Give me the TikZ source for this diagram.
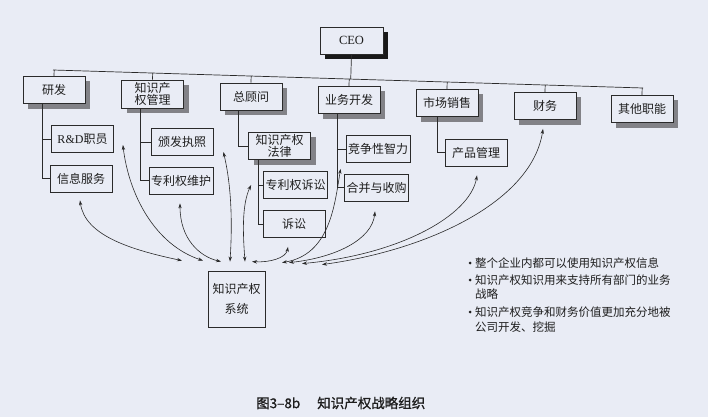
\documentclass[tikz,border=0pt]{standalone}
\usepackage{fontspec}
\setmainfont{Liberation Serif}
\newfontfamily\cjk{Noto Sans CJK SC}
\newfontfamily\cjkb[FakeBold=1]{Noto Sans CJK SC}
\usetikzlibrary{arrows.meta,shadows,calc}
\definecolor{bgc}{RGB}{233,236,245}
\definecolor{linec}{RGB}{42,42,42}
\definecolor{textc}{RGB}{30,30,30}
\definecolor{shadc}{RGB}{130,130,135}
\definecolor{shadd}{RGB}{25,25,25}
\begin{document}
\begin{tikzpicture}[x=1pt,y=-1pt,
  box/.style={draw=linec,line width=0.8pt,fill=bgc,text=textc,minimum width=62pt,minimum height=27pt,inner sep=2pt,align=center,font=\cjk\fontsize{12}{12.5}\selectfont},
  sbox/.style={box,drop shadow={shadow xshift=5pt,shadow yshift=-5pt,fill=shadc,opacity=1}},
  ceobox/.style={box,minimum width=63pt,font=\rmfamily\fontsize{12.5}{13}\selectfont,drop shadow={shadow xshift=5pt,shadow yshift=-5pt,fill=shadd,opacity=1}},
  tree/.style={draw=linec,line width=0.7pt},
  biarrow/.style={draw=linec,line width=0.6pt,{Stealth[length=5pt,width=3.4pt]}-{Stealth[length=5pt,width=3.4pt]}},
  bullettext/.style={text=textc,align=left,inner sep=0pt,anchor=west,font=\cjk\fontsize{11.5}{14.5}\selectfont}
]
\fill[bgc] (0,0) rectangle (708,417);
\useasboundingbox (0,0) rectangle (708,417);

% CEO and top level
\node[ceobox] (ceo) at (351.5,40.5) {CEO};
\node[sbox] (yf) at (54,90) {研发};
\node[sbox,minimum height=28pt] (ipm) at (152.5,94) {知识产\\权管理};
\node[sbox] (gc) at (251,96.5) {总顾问};
\node[sbox] (bd) at (349,100) {业务开发};
\node[sbox] (ms) at (447,103) {市场销售};
\node[sbox] (fin) at (545,106) {财务};
\node[sbox] (oth) at (642,109) {其他职能};

% bus
\coordinate (busL) at (53,70);
\coordinate (busR) at (643,88);
\draw[tree] (busL) -- (busR);
\draw[tree] (ceo.south) -- ($(busL)!(ceo.south)!(busR)$);
\foreach \n in {yf,ipm,gc,bd,ms,fin,oth}
  \draw[tree] (\n.north) -- ($(busL)!(\n.north)!(busR)$);

% sub boxes
\node[box] (rd) at (82.5,139) {{\rmfamily R\&D}职员};
\node[box] (info) at (81,178.5) {信息服务};
\node[box] (lic) at (182,142) {颁发执照};
\node[box,minimum width=64pt] (pm) at (181,180.5) {专利权维护};
\node[sbox,minimum height=26pt,font=\cjk\fontsize{12}{12}\selectfont] (law) at (279.5,146) {知识产权\\法律};
\node[box] (ptl) at (295.5,185) {专利权诉讼};
\node[box] (lit) at (294,224) {诉讼};
\node[box] (ci) at (378,149) {竞争性智力};
\node[box] (ma) at (376.5,187.5) {合并与收购};
\node[box] (pmg) at (476,152.5) {产品管理};
\node[box,minimum width=57pt,minimum height=56pt,font=\cjk\fontsize{12}{20}\selectfont] (sys) at (236.5,299) {知识产权\\系统};

% tree branches
\draw[tree] ([xshift=-12pt]yf.south) |- (rd.west);
\draw[tree] ([xshift=-12pt]yf.south) |- (info.west);
\draw[tree] ([xshift=-12.5pt]ipm.south) |- (lic.west);
\draw[tree] ([xshift=-12.5pt]ipm.south) |- (pm.west);
\draw[tree] ([xshift=-13pt]gc.south) |- (law.west);
\draw[tree] ([xshift=-21.5pt]law.south) |- (ptl.west);
\draw[tree] ([xshift=-21.5pt]law.south) |- (lit.west);
\draw[tree] ([xshift=-12pt]bd.south) |- (ci.west);
\draw[tree] ([xshift=-12pt]bd.south) |- (ma.west);
\draw[tree] ([xshift=-10pt]ms.south) |- (pmg.west);

% arrow end points
\coordinate (u1) at ($(info.south)+(-1,8)$);
\coordinate (u2) at ($(rd.east)+(9,6)$);
\coordinate (u3) at ($(pm.south)+(-1,9)$);
\coordinate (u4) at ($(lic.east)+(10,10)$);
\coordinate (u5) at ($(ptl.west)+(-12,0)$);
\coordinate (u6) at ($(lit.south)+(-6,9)$);
\coordinate (u7) at ($(ci.south west)+(-5,6)$);
\coordinate (u8) at ($(ma.south)+(-1.5,10)$);
\coordinate (u9) at ($(pmg.south)+(1,9)$);
\coordinate (u10) at ($(fin.south)+(-2,9)$);
\coordinate (l1) at ($(sys.north)+(-54.5,-10)$);
\coordinate (l2) at ($(sys.north)+(-33.5,-10)$);
\coordinate (l3) at ($(sys.north)+(-15.5,-9)$);
\coordinate (l4) at ($(sys.north)+(-6.5,-9)$);
\coordinate (l5) at ($(sys.north)+(8.5,-9)$);
\coordinate (l6) at ($(sys.north)+(15.5,-9)$);
\coordinate (l7) at ($(sys.north)+(45.5,-8)$);
\coordinate (l8) at ($(sys.north)+(52.5,-8)$);
\coordinate (l9) at ($(sys.north)+(65.5,-7)$);
\coordinate (l10) at ($(sys.north)+(85.5,-6)$);

\draw[biarrow] (u1) .. controls +(5,35) and +(-52,-11) .. (l1);
\draw[biarrow] (u2) .. controls +(6,50) and +(-48,-16) .. (l2);
\draw[biarrow] (u3) .. controls +(0,36) and +(-21,-5) .. (l3);
\draw[biarrow] (u4) .. controls +(9,38) and +(2,-32) .. (l4);
\draw[biarrow] (u5) .. controls +(-9.5,20) and +(-2,-27) .. (l5);
\draw[biarrow] (l6) .. controls +(18,1) and +(-2,11) .. (u6);
\draw[biarrow] (u7) .. controls +(-6,36) and +(48,-8) .. (l7);
\draw[biarrow] (u8) .. controls +(-3,28.5) and +(46,-5) .. (l8);
\draw[biarrow] (u9) .. controls +(-7,40) and +(98,-9) .. (l9);
\draw[biarrow] (u10) .. controls +(-11,72) and +(108,-15) .. (l10);

% bullet list
\fill[textc] (470,263) circle (1.5);
\fill[textc] (470,280) circle (1.5);
\fill[textc] (470,312) circle (1.5);
\node[bullettext] (b1) at (475,263) {整个企业内都可以使用知识产权信息};
\node[bullettext] (b2) at (475,287) {知识产权知识用来支持所有部门的业务\\战略};
\node[bullettext] (b3) at (475,319.5) {知识产权竞争和财务价值更加充分地被\\公司开发、挖掘};

% caption
\node[anchor=west,inner sep=0pt,text=textc,font=\cjkb\fontsize{13.5}{14}\selectfont] (cap) at (256,403) {图3–8b\hspace{17pt}知识产权战略组织};
\end{tikzpicture}
\end{document}
